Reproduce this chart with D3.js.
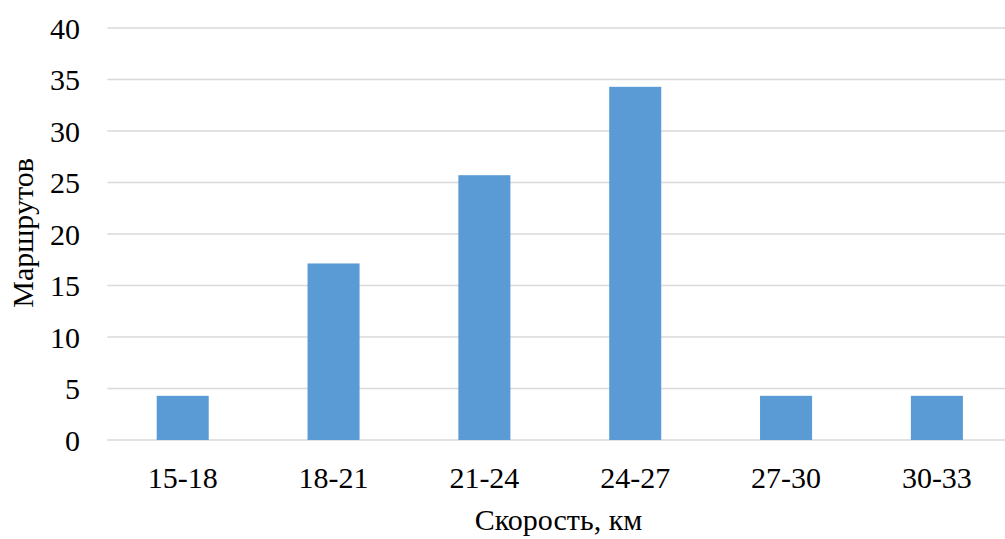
<!DOCTYPE html>
<html>
<head>
<meta charset="utf-8">
<script src="https://cdn.jsdelivr.net/npm/d3@7"></script>
<style>
  html, body { margin: 0; padding: 0; background: #fff; }
  svg { display: block; }
  svg text { font-family: 'Liberation Serif', 'Times New Roman', Times, 'DejaVu Serif', serif !important; fill: #000; }
</style>
</head>
<body>
<svg id="chart" width="1005" height="539"></svg>
<script>
// Speed ranges (km) and number of routes in each
const categories = ["15-18", "18-21", "21-24", "24-27", "27-30", "30-33"];
const routes = [4.29, 17.14, 25.71, 34.29, 4.29, 4.29];
const yTicks = [0, 5, 10, 15, 20, 25, 30, 35, 40];
const xTitle = "Скорость, км";
const yTitle = "Маршрутов";

const svg = d3.select("#chart");
const plotLeft = 107.3, plotRight = 1012.3, plotTop = 28, plotBottom = 440;

const x = d3.scaleBand()
  .domain(categories)
  .range([plotLeft, plotRight])
  .paddingInner(0.655)
  .paddingOuter(0.3275);

const y = d3.scaleLinear()
  .domain([0, 40])
  .range([plotBottom, plotTop]);

// Horizontal gridlines
svg.append("g")
  .selectAll("line")
  .data(yTicks)
  .join("line")
  .attr("x1", plotLeft)
  .attr("x2", plotRight)
  .attr("y1", d => y(d))
  .attr("y2", d => y(d))
  .attr("stroke", "#d9d9d9")
  .attr("stroke-width", 1.5);

// Bars
svg.append("g")
  .selectAll("rect")
  .data(routes)
  .join("rect")
  .attr("x", (d, i) => x(categories[i]))
  .attr("width", x.bandwidth())
  .attr("y", d => y(d))
  .attr("height", d => y(0) - y(d))
  .attr("fill", "#5b9bd5");

// Y axis labels
const yAxis = d3.axisLeft(y).tickValues(yTicks).tickSize(0).tickPadding(0);
svg.append("g")
  .attr("transform", `translate(${80},0)`)
  .call(yAxis)
  .attr("font-family", null)
  .call(g => g.select(".domain").remove())
  .call(g => g.selectAll("text")
    .attr("font-size", 30)
    .attr("fill", "#000")
    .attr("dy", "0.34em"));

// X axis labels
const xAxis = d3.axisBottom(x).tickSize(0).tickPadding(0);
svg.append("g")
  .attr("transform", `translate(0,${plotBottom})`)
  .call(xAxis)
  .attr("font-family", null)
  .call(g => g.select(".domain").remove())
  .call(g => g.selectAll("text")
    .attr("font-size", 30)
    .attr("fill", "#000")
    .attr("y", 0)
    .attr("dy", 48));

// Axis titles
svg.append("text")
  .attr("x", 558.5)
  .attr("y", 530)
  .attr("text-anchor", "middle")
  .attr("font-size", 30)
  .text(xTitle);

svg.append("text")
  .attr("transform", `translate(33,233) rotate(-90)`)
  .attr("text-anchor", "middle")
  .attr("font-size", 30)
  .text(yTitle);
</script>
</body>
</html>
